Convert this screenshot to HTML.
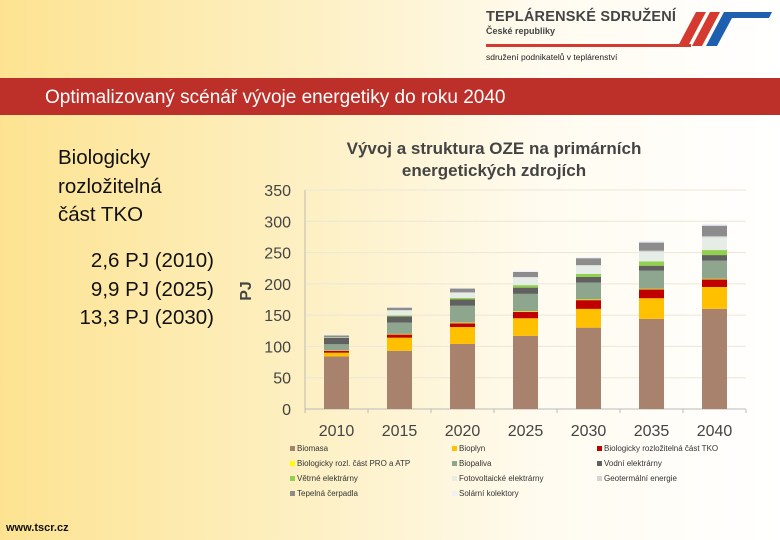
<!DOCTYPE html>
<html><head><meta charset="utf-8">
<style>
body{margin:0;width:780px;height:540px;overflow:hidden;font-family:"Liberation Sans",sans-serif;}
#bg{position:absolute;left:0;top:0;width:780px;height:540px;background:linear-gradient(90deg,#fde391 0%,#fdf0c4 40%,#fffbf0 70%,#ffffff 100%);}
.abs{position:absolute;}
</style></head><body>
<div id="bg"></div>
<div class="abs" style="left:486px;top:9px;width:290px;height:50px;">
 <div style="font-weight:bold;font-size:14.5px;color:#444;letter-spacing:0.2px;">TEPLÁRENSKÉ SDRUŽENÍ</div>
 <div style="font-weight:bold;font-size:9px;color:#444;margin-top:1px;">České republiky</div>
 <div style="position:absolute;left:0;top:35px;width:205px;height:3px;background:#d43a2f;"></div>
 <svg style="position:absolute;left:190px;top:2px" width="100" height="38"><polygon points="20,1 30,1 12,35 2,35" fill="#d43a2f"/><polygon points="34,1 44,1 26,35 16,35" fill="#d43a2f"/><polygon points="48,1 96,1 93,7 56,7 41,35 30,35" fill="#1f5fb0"/></svg>
</div>
<div class="abs" style="left:486px;top:52px;font-size:8.5px;color:#222;">sdružení podnikatelů v teplárenství</div>
<div class="abs" style="left:0;top:78px;width:780px;height:37px;background:#bd2f29;"></div>
<div class="abs" style="left:45px;top:87px;font-size:19px;color:#fff;">Optimalizovaný scénář vývoje energetiky do roku 2040</div>
<div class="abs" style="left:58px;top:144px;font-size:20.5px;line-height:28.5px;color:#111;">Biologicky<br>rozložitelná<br>část TKO</div>
<div class="abs" style="left:48px;top:247px;font-size:20.5px;line-height:28.5px;color:#111;text-align:right;width:166px;">2,6 PJ (2010)<br>9,9 PJ (2025)<br>13,3 PJ (2030)</div>
<div class="abs" style="left:6px;top:522px;font-size:11px;font-weight:bold;color:#111;">www.tscr.cz</div>
<svg id="chart" class="abs" style="left:0;top:0" width="780" height="540"></svg>
<script>
const years=["2010","2015","2020","2025","2030","2035","2040"];
const seriesNames=["Biomasa","Bioplyn","Biologicky rozložitelná část TKO","Biologicky rozl. část PRO a ATP","Biopaliva","Vodní elektrárny","Větrné elektrárny","Fotovoltaické elektrárny","Geotermální energie","Tepelná čerpadla","Solární kolektory"];
const seriesColors=["#a8826c","#ffc000","#c00000","#ffff00","#8ea68e","#606060","#92d050","#e6ece6","#d4d4d4","#8c8c8c","#eef2f8"];
const biomasa=[84,93,104,117,130,144,160];
const bioplyn=[6,21,27,28,30,33,35];
const tko=[3,5,6,10,14,14,12];
const pro=[0.5,1,1,1,1,1,1];
const biopaliva=[10,18,27,28,27,29,29];
const vodni=[10,10,10,10,9,8,9];
const vetrne=[0.5,1.5,2.5,4,5,7,8];
const fve=[0.5,8,8,12,13,15,20];
const geo=[0,0.5,1,1,1,2,2];
const tepelna=[3,4,6,8,11,13,17];
const solarni=[1,1,1,2,2,3,3];
const yTicks=[0,50,100,150,200,250,300,350];
const series=[biomasa,bioplyn,tko,pro,biopaliva,vodni,vetrne,fve,geo,tepelna,solarni];
const svg=document.getElementById('chart');
const NS="http://www.w3.org/2000/svg";
const x0=305,x1=746,y0=409,y1=190,ymax=350;
const yS=v=>y0-(v/ymax)*(y0-y1);
const band=(x1-x0)/years.length;
const xC=i=>x0+band*(i+0.5);
function mk(t,a,txt){const e=document.createElementNS(NS,t);for(const k in a)e.setAttribute(k,a[k]);if(txt!=null)e.textContent=txt;svg.appendChild(e);return e;}
yTicks.forEach(v=>{
 if(v>0){const g=mk('line',{x1:x0,x2:x1,y1:yS(v),y2:yS(v),stroke:'#ece6d6','stroke-width':1});
 
 }
 const t=mk('text',{x:291,y:yS(v)+6,'text-anchor':'end','font-size':16,fill:'#444'},v);
 
 
});
const ax=mk('line',{x1:x0,x2:x0,y1:y1,y2:y0,stroke:'#bbb'});


const bx=mk('line',{x1:x0,x2:x1,y1:y0,y2:y0,stroke:'#bbb'});


for(let i=0;i<=years.length;i++){const tk=mk('line',{x1:x0+band*i,x2:x0+band*i,y1:y0,y2:y0+4,stroke:'#bbb'});
 
 }
years.forEach((y,i)=>{
 let acc=0;
 series.forEach((s,k)=>{
  const v=s[i];if(v<=0)return;
  const r=mk('rect',{x:xC(i)-12.5,width:25,y:yS(acc+v),height:yS(acc)-yS(acc+v),fill:seriesColors[k]});
  
  
  acc+=v;
 });
 const t=mk('text',{x:xC(i),y:436,'text-anchor':'middle','font-size':16,fill:'#444'},y);
 
 
});
const t1=mk('text',{x:494,y:154,'text-anchor':'middle','font-size':17,'font-weight':'bold',fill:'#444'},'Vývoj a struktura OZE na primárních');


const t2=mk('text',{x:494,y:176,'text-anchor':'middle','font-size':17,'font-weight':'bold',fill:'#444'},'energetických zdrojích');


const yt=mk('text',{x:0,y:0,'text-anchor':'middle','font-size':16,'font-weight':'bold',fill:'#444',transform:'translate(251,291) rotate(-90)'},'PJ');


const lx=[290,452,597],ly=[451,466,481,496];
const order=[0,1,2,3,4,5,6,7,8,9,10];
order.forEach((k,j)=>{
 const c=j%3,r=Math.floor(j/3);
 const sq=mk('rect',{x:lx[c],y:ly[r]-5,width:5,height:5,fill:seriesColors[k]});
 
 
 const t=mk('text',{x:lx[c]+7,y:ly[r],'font-size':8,fill:'#333'},seriesNames[k]);
 
 
});
</script>
</body></html>
